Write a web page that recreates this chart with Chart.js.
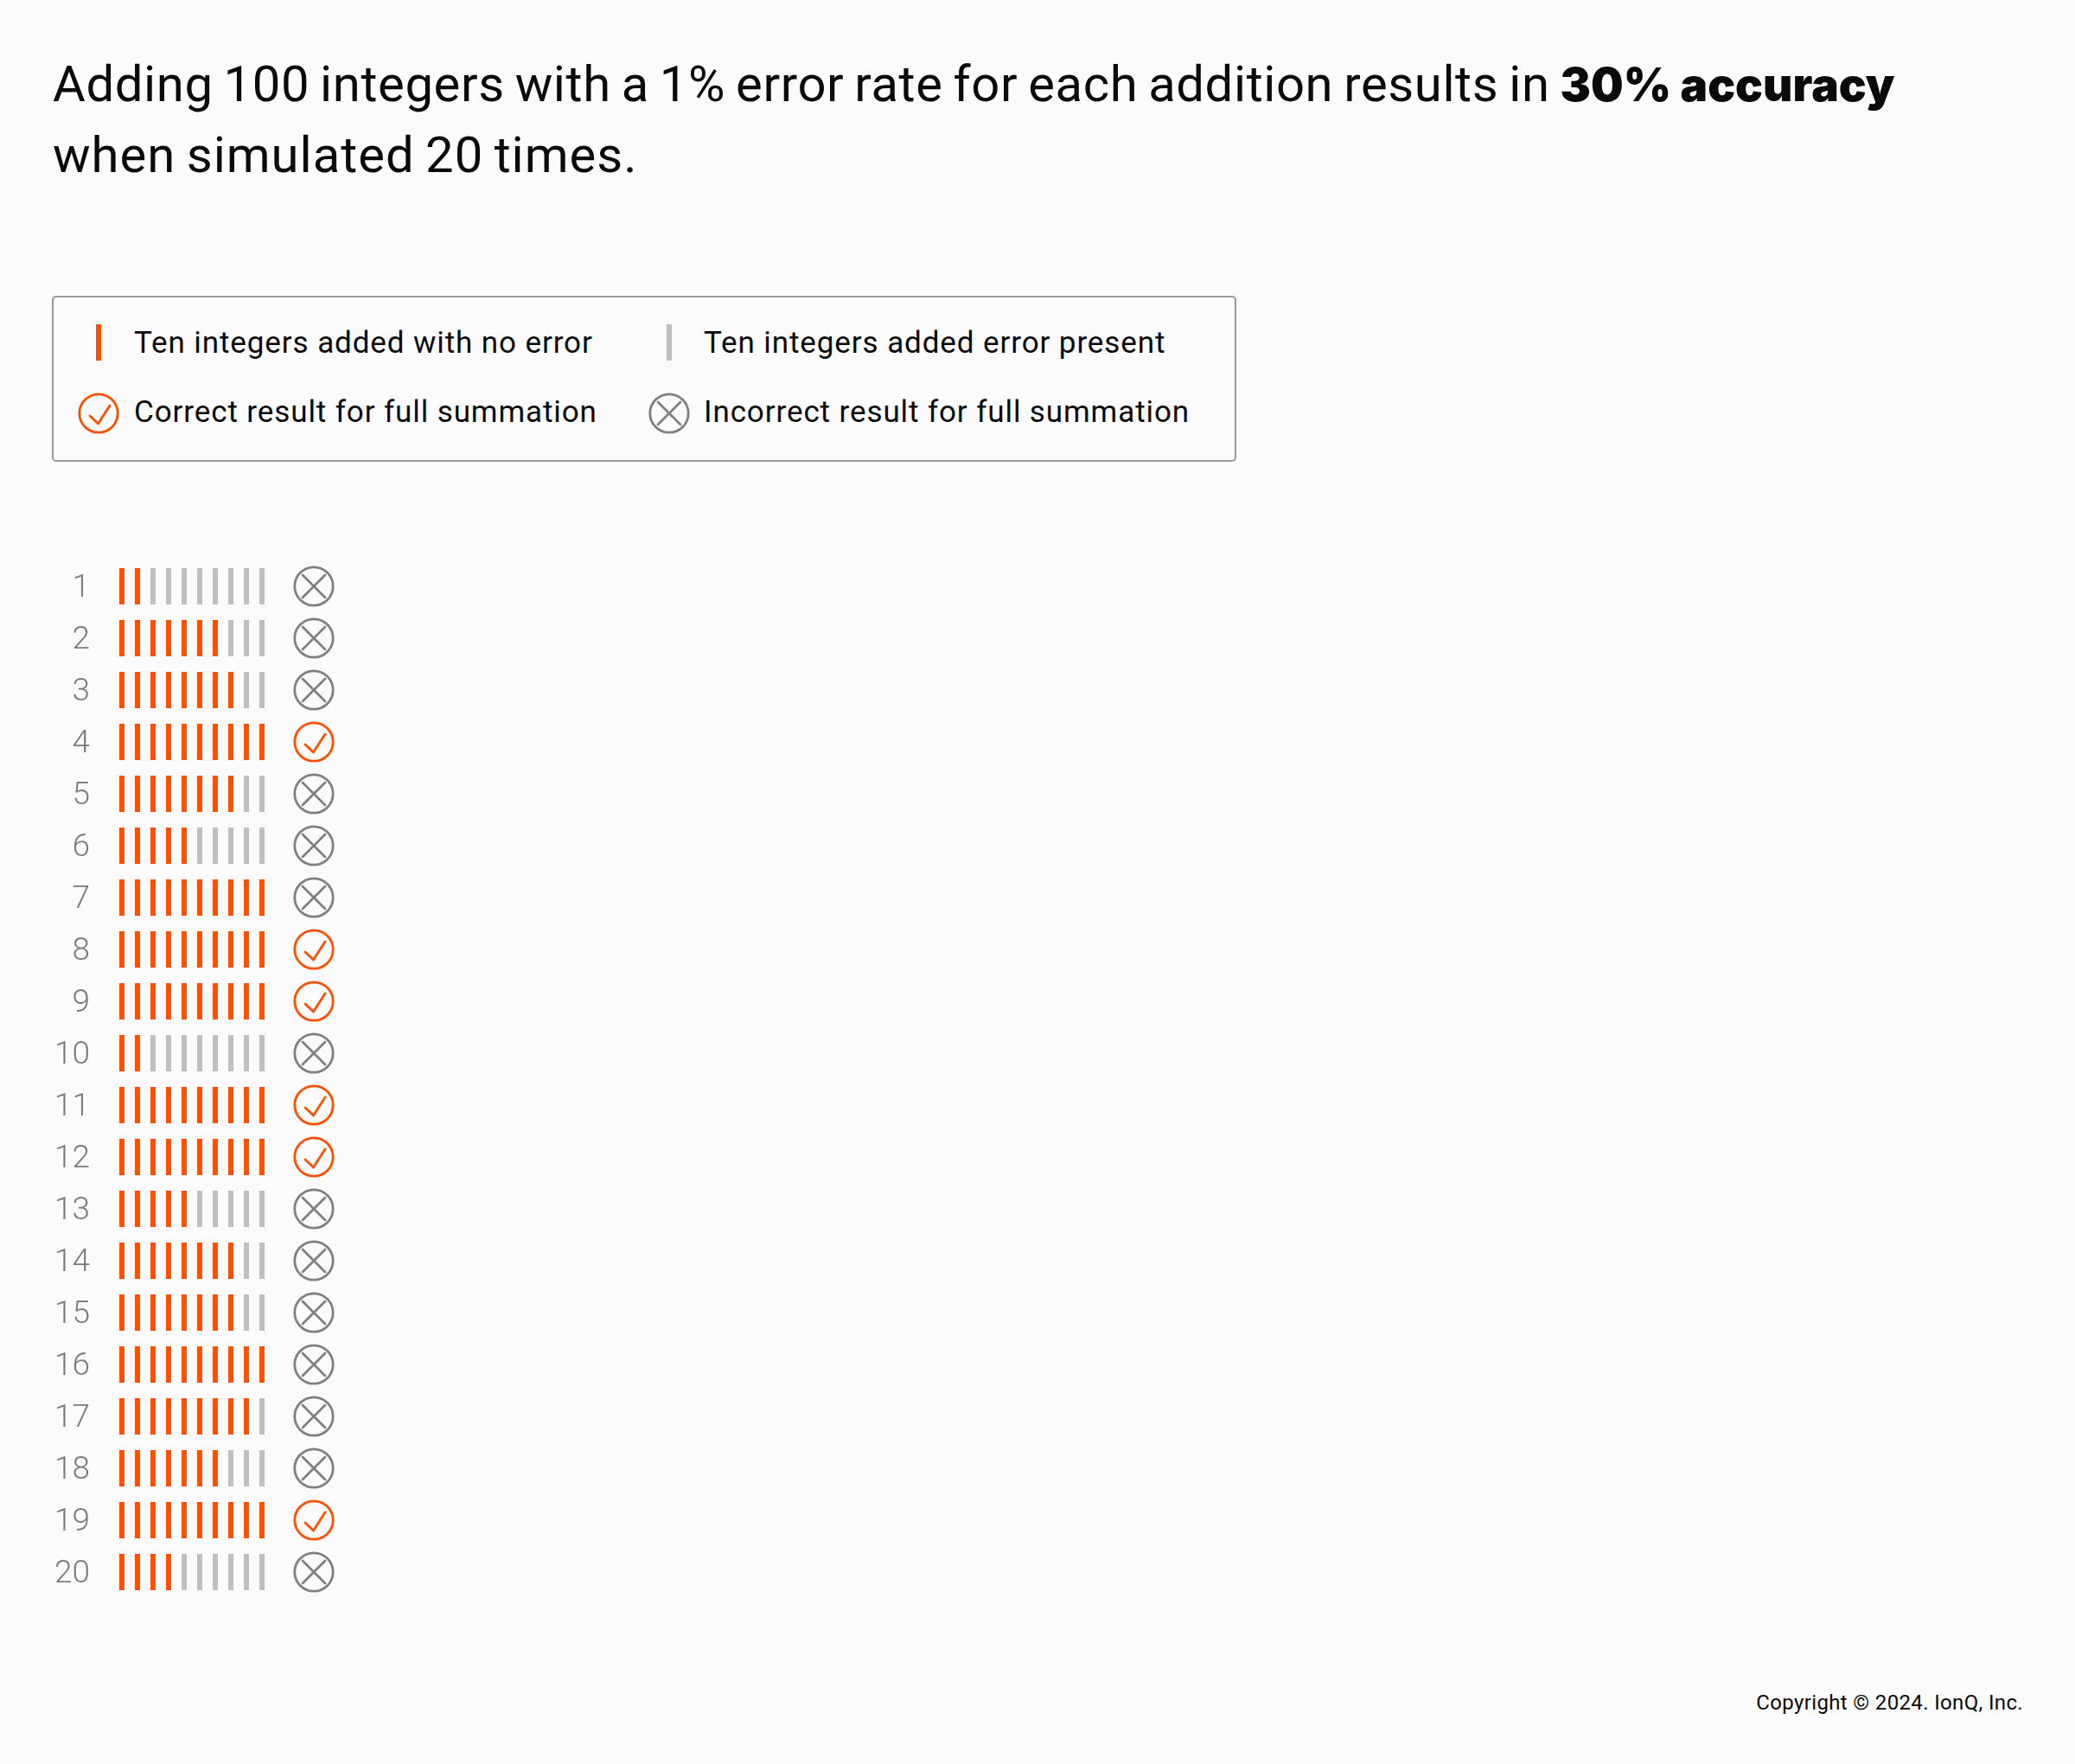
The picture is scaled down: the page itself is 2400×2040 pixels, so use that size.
<!DOCTYPE html>
<html>
<head>
<meta charset="utf-8">
<title>Adding 100 integers</title>
<script src="https://cdnjs.cloudflare.com/ajax/libs/Chart.js/4.4.0/chart.umd.min.js"></script>
<style>
  html, body { margin: 0; padding: 0; background: #fbfbfb; }
  body { position: relative; width: 2400px; height: 2040px; overflow: hidden; font-family: Roboto, sans-serif; color: #0a0a0a; }
  #headline { position: absolute; left: 61px; top: 57px; width: 2300px; font-size: 58px; line-height: 81px; letter-spacing: 0.6px; word-spacing: -3px; white-space: nowrap; }
  #headline b { font-family: Inter, sans-serif; font-size: 53px; font-weight: 900; letter-spacing: 0; word-spacing: 0; }
  #headline span { letter-spacing: 1px; }
  #legend { position: absolute; left: 60px; top: 342px; width: 1366px; height: 188px; border: 2px solid #999; border-radius: 5px; }
  .key { position: absolute; font-size: 35px; line-height: 40px; letter-spacing: 0.9px; white-space: nowrap; }
  .tick { position: absolute; width: 6px; height: 42px; }
  .icon { position: absolute; }
  #chart-box { position: absolute; left: 0; top: 648px; width: 420px; height: 1200px; }
  #copyright { position: absolute; right: 60px; top: 1954px; font-size: 24px; line-height: 30px; letter-spacing: 0.35px; }
</style>
</head>
<body>
<div id="headline">Adding 100 integers with a 1% error rate for each addition results in <b>30% accuracy</b><br><span>when simulated 20 times.</span></div>

<div id="legend">
  <div class="tick" style="left:49px;top:31px;background:#ff5000"></div>
  <div class="key" style="left:93px;top:33px">Ten integers added with no error</div>
  <div class="tick" style="left:709px;top:31px;background:#bfbfc1"></div>
  <div class="key" style="left:752px;top:33px">Ten integers added error present</div>
  <div class="key" style="left:93px;top:113px">Correct result for full summation</div>
  <div class="key" style="left:752px;top:113px">Incorrect result for full summation</div>
</div>

<div id="chart-box"><canvas id="chart"></canvas></div>
<div id="copyright">Copyright © 2024. IonQ, Inc.</div>

<script>
const ORANGE = '#ff5000';
const LIGHT_GRAY = '#bfbfc1';
const DARK_GRAY = '#808080';

const runs = ['1', '2', '3', '4', '5', '6', '7', '8', '9', '10', '11', '12', '13', '14', '15', '16', '17', '18', '19', '20'];
// how many of the ten groups went through without an error, per run
const cleanGroups = [2, 7, 8, 10, 8, 5, 10, 10, 10, 2, 10, 10, 5, 8, 8, 10, 9, 7, 10, 4];
// did the full summation come out right, per run
const correctResult = [0, 0, 0, 1, 0, 0, 0, 1, 1, 0, 1, 1, 0, 0, 0, 0, 0, 0, 1, 0];
const groups = [1, 2, 3, 4, 5, 6, 7, 8, 9, 10];
const resultColumn = 13.33;

function makeIcon(correct) {
  const c = document.createElement('canvas');
  c.width = 48;
  c.height = 48;
  const g = c.getContext('2d');
  const color = correct ? ORANGE : DARK_GRAY;
  g.strokeStyle = color;
  g.lineWidth = 2.8;
  g.lineCap = 'round';
  g.lineJoin = 'round';
  g.beginPath();
  g.arc(24, 24, 22.2, 0, Math.PI * 2);
  g.stroke();
  g.beginPath();
  if (correct) {
    g.moveTo(14, 27);
    g.lineTo(23.5, 36);
    g.lineTo(37, 15);
  } else {
    g.moveTo(11, 11);
    g.lineTo(37, 37);
    g.moveTo(37, 11);
    g.lineTo(11, 37);
  }
  g.stroke();
  return c;
}

const okIcon = makeIcon(true);
const badIcon = makeIcon(false);

// legend icons reuse the same drawing
function addLegendIcon(correct, left, top) {
  const icon = makeIcon(correct);
  icon.className = 'icon';
  icon.style.left = left + 'px';
  icon.style.top = top + 'px';
  document.getElementById('legend').appendChild(icon);
}
addLegendIcon(true, 28, 110);
addLegendIcon(false, 688, 110);

const cleanPoints = [];
const errorPoints = [];
runs.forEach((run, i) => {
  groups.forEach(g => {
    (g <= cleanGroups[i] ? cleanPoints : errorPoints).push({ x: g, y: run });
  });
});

const tickStyle = { pointStyle: 'line', rotation: 90, pointRadius: 21, pointBorderWidth: 6, showLine: false };

// Roboto sits a little high against the marks, nudge the run numbers down
const nudgeLabels = {
  id: 'nudgeLabels',
  afterUpdate(chart) {
    chart.scales.y.getLabelItems().forEach(item => { item.options.translation[1] += 3; });
  }
};

new Chart(document.getElementById('chart'), {
  type: 'scatter',
  plugins: [nudgeLabels],
  data: {
    datasets: [
      { label: 'Ten integers added with no error', data: cleanPoints, borderColor: ORANGE, backgroundColor: ORANGE, ...tickStyle },
      { label: 'Ten integers added error present', data: errorPoints, borderColor: LIGHT_GRAY, backgroundColor: LIGHT_GRAY, ...tickStyle },
      {
        label: 'Correct result for full summation',
        data: runs.filter((r, i) => correctResult[i]).map(r => ({ x: resultColumn, y: r })),
        pointStyle: okIcon
      },
      {
        label: 'Incorrect result for full summation',
        data: runs.filter((r, i) => !correctResult[i]).map(r => ({ x: resultColumn, y: r })),
        pointStyle: badIcon
      }
    ]
  },
  options: {
    responsive: true,
    maintainAspectRatio: false,
    animation: false,
    layout: { padding: 0, autoPadding: false },
    plugins: { legend: { display: false }, title: { display: false }, tooltip: { enabled: false } },
    scales: {
      x: {
        type: 'linear',
        display: false,
        min: -1 / 6,
        max: 16.5
      },
      y: {
        type: 'category',
        labels: runs,
        offset: true,
        afterFit: scale => {
          // labels sit inside their bands, so no extra room above and below
          scale.width = 120;
          scale.paddingTop = 0;
          scale.paddingBottom = 0;
        },
        border: { display: false },
        grid: { display: false, drawTicks: false },
        ticks: {
          autoSkip: false,
          padding: 16,
          color: '#7c7c7c',
          font: { family: 'Roboto', size: 37, weight: 300 }
        }
      }
    }
  }
});
</script>
</body>
</html>
